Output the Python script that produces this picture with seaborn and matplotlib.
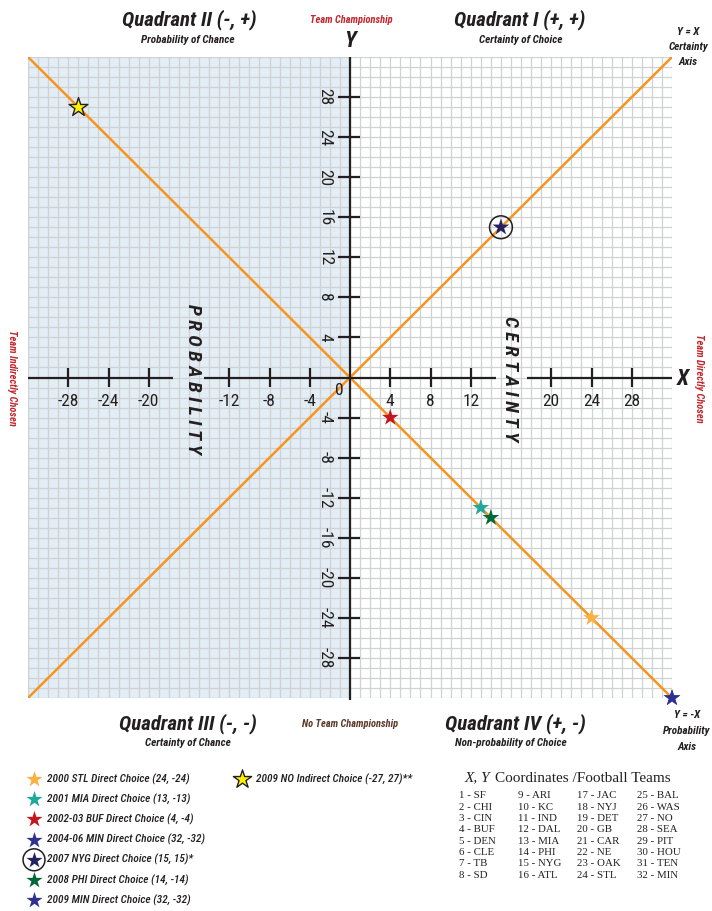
import matplotlib
matplotlib.use("Agg")
import matplotlib.pyplot as plt
import seaborn as sns
import pandas as pd
import numpy as np

# ---------------- data ----------------
choice_labels = [
    "2000 STL Direct Choice (24, -24)",
    "2001 MIA Direct Choice (13, -13)",
    "2002-03 BUF Direct Choice (4, -4)",
    "2004-06 MIN Direct Choice (32, -32)",
    "2007 NYG Direct Choice (15, 15)*",
    "2008 PHI Direct Choice (14, -14)",
    "2009 MIN Direct Choice (32, -32)",
]
choice_x = [24, 13, 4, 32, 15, 14, 32]
choice_y = [-24, -13, -4, -32, 15, -14, -32]
choice_colors = ["#fbb040", "#1fa89b", "#c4161c", "#2e3192", "#262262", "#006838", "#2e3192"]
circled = [False, False, False, False, True, False, False]

indirect_label = "2009 NO Indirect Choice (-27, 27)**"
indirect_x = [-27]
indirect_y = [27]
indirect_color = "#fff200"

x_tick_values = [-28, -24, -20, -12, -8, -4, 4, 8, 12, 20, 24, 28]
y_tick_values = [-28, -24, -20, -16, -12, -8, -4, 4, 8, 12, 16, 20, 24, 28]
tick_marks = [-28, -24, -20, -16, -12, -8, -4, 4, 8, 12, 16, 20, 24, 28]

teams = ["SF", "CHI", "CIN", "BUF", "DEN", "CLE", "TB", "SD",
         "ARI", "KC", "IND", "DAL", "MIA", "PHI", "NYG", "ATL",
         "JAC", "NYJ", "DET", "GB", "CAR", "NE", "OAK", "STL",
         "BAL", "WAS", "NO", "SEA", "PIT", "HOU", "TEN", "MIN"]

diag_x = [-32, 32]

# ---------------- setup ----------------
sns.set_theme(style="white")
COND = ["Roboto Condensed", "DejaVu Sans"]
plt.rcParams["font.family"] = COND

W, H = 712, 911
fig = plt.figure(figsize=(W / 100, H / 100), dpi=100)
fig.patch.set_facecolor("white")

# main plotting axes: -32..32 on both axes
ax = fig.add_axes([28 / W, 1 - 698 / H, 644 / W, 641 / H])
ax.set_xlim(-32, 32)
ax.set_ylim(-32, 32)
for s in ax.spines.values():
    s.set_visible(False)
ax.set_facecolor("white")
ax.axvspan(-32, 0, color="#e3edf5", zorder=0, lw=0)
ax.set_xticks(np.arange(-32, 33, 1))
ax.set_yticks(np.arange(-32, 33, 1))
ax.grid(True, color="#cfd1d3", linewidth=0.9, zorder=1)
ax.tick_params(length=0, labelbottom=False, labelleft=False)
ax.set_axisbelow(True)

# diagonals
df_line = pd.DataFrame({"x": diag_x, "y": diag_x})
sns.lineplot(data=df_line, x="x", y="y", color="#f7941d", lw=1.8, ax=ax, zorder=3)
df_line2 = pd.DataFrame({"x": diag_x, "y": [-v for v in diag_x]})
sns.lineplot(data=df_line2, x="x", y="y", color="#f7941d", lw=1.8, ax=ax, zorder=3)

# axes lines (x axis broken under PROBABILITY / CERTAINTY words)
axis_kw = dict(color="#231f20", lw=1.6, zorder=4, solid_capstyle="butt")
ax.plot([-32, -17.6], [0, 0], **axis_kw)
ax.plot([-14.5, 14.5], [0, 0], **axis_kw)
ax.plot([17.6, 32.0], [0, 0], **axis_kw, clip_on=False)
ax.plot([0, 0], [-32.2, 32], **axis_kw, clip_on=False)
for t in tick_marks:
    if abs(t) != 16:
        ax.plot([t, t], [-0.9, 0.9], **axis_kw)
    ax.plot([-1.2, 1.0], [t, t], **axis_kw)

tick_font = dict(fontsize=12.5, color="#231f20", family=COND)
for t in x_tick_values:
    ax.text(t, -2.4, str(t), ha="center", va="center", **tick_font)
for t in y_tick_values:
    ax.text(-2.5, t, str(t), ha="center", va="center", rotation=-90, **tick_font)
ax.text(-1.1, -1.3, "0", ha="center", va="center", **tick_font)

# points
df_pts = pd.DataFrame({"x": choice_x, "y": choice_y, "label": choice_labels})
pal = dict(zip(choice_labels, choice_colors))
cx = [x for x, c in zip(choice_x, circled) if c]
cy = [y for y, c in zip(choice_y, circled) if c]
ax.scatter(cx, cy, s=270, facecolors="none", edgecolors="#231f20", linewidths=1.1, zorder=5)
sns.scatterplot(data=df_pts, x="x", y="y", hue="label", palette=pal, marker="*",
                s=160, linewidth=0, legend=False, ax=ax, zorder=6, clip_on=False)
df_ind = pd.DataFrame({"x": indirect_x, "y": indirect_y})
sns.scatterplot(data=df_ind, x="x", y="y", color=indirect_color, marker="*", s=200,
                edgecolor="#231f20", linewidth=1.0, legend=False, ax=ax, zorder=6)
ax.set_xlabel("")
ax.set_ylabel("")

# ---------------- overlay for annotation text (pixel coords) ----------------
ov = fig.add_axes([0, 0, 1, 1], facecolor="none")
ov.set_xlim(0, W)
ov.set_ylim(H, 0)
ov.axis("off")

dark = "#231f20"
red = "#c1272d"
brown = "#5b3a29"

def T(x, y, s, size, color=dark, weight="bold", style="italic", ha="center", rot=0, fam=None, **kw):
    ov.text(x, y, s, fontsize=size, color=color, fontweight=weight, fontstyle=style,
            ha=ha, va="center", rotation=rot, family=fam or COND, **kw)

T(189, 20, "Quadrant II (-, +)", 15)
T(188, 40, "Probability of Chance", 8)
T(351, 20, "Team Championship", 7.5, color=red)
T(350, 41, "Y", 16)
T(520, 20, "Quadrant I (+, +)", 15)
T(521, 40, "Certainty of Choice", 8)
T(688, 32, "Y = X", 8)
T(688, 47, "Certainty", 8)
T(688, 62, "Axis", 8)

T(188, 724, "Quadrant III (-, -)", 15)
T(188, 743, "Certainty of Chance", 8)
T(350, 724, "No Team Championship", 7.5, color=brown)
T(515, 724, "Quadrant IV (+, -)", 15)
T(511, 743, "Non-probability of Choice", 8)
T(687, 715, "Y = -X", 8)
T(687, 731, "Probability", 8)
T(687, 747, "Axis", 8)

T(683, 379, "X", 16)
T(12, 378, "Team Indirectly Chosen", 7.5, color=red, rot=-90)
T(699, 378, "Team Directly Chosen", 7.5, color=red, rot=-90)

T(193, 379, "P R O B A B I L I T Y", 14, weight="semibold", rot=-90)
T(510, 379, "C E R T A I N T Y", 14, weight="semibold", rot=-90)

# legend
leg_y0, leg_dy = 779, 20.2
for i, (lab, col, circ) in enumerate(zip(choice_labels, choice_colors, circled)):
    yy = leg_y0 + i * leg_dy
    if circ:
        ov.scatter([34], [yy], s=250, facecolors="none", edgecolors=dark, linewidths=1.1)
    ov.scatter([34], [yy], s=150, marker="*", color=col, linewidths=0)
    T(47, yy, lab, 8.1, weight="medium", ha="left")
ov.scatter([242], [779], s=190, marker="*", color=indirect_color, edgecolors=dark, linewidths=1.0)
T(256, 779, indirect_label, 8.1, weight="medium", ha="left")

# coordinates table
SERIF = ["Liberation Serif", "DejaVu Serif"]
ov.text(465, 778, "X, Y", fontsize=11, style="italic", family=SERIF, color=dark, va="center", ha="left")
ov.text(495, 778, "Coordinates /Football Teams", fontsize=11, family=SERIF, color=dark,
        va="center", ha="left")
col_x = [459, 518, 577, 637]
for i, tm in enumerate(teams):
    c, r = divmod(i, 8)
    ov.text(col_x[c], 796 + r * 11.3, f"{i + 1} - {tm}", fontsize=7.8, family=SERIF,
            color=dark, va="center", ha="left")

fig.savefig("out.png", dpi=100)
